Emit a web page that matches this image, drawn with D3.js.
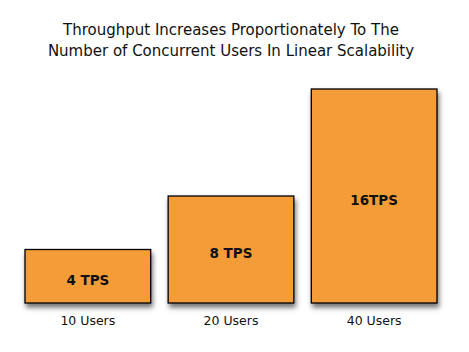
<!DOCTYPE html>
<html><head><meta charset="utf-8">
<script src="https://cdn.jsdelivr.net/npm/d3@7"></script>
<style>body{margin:0;background:#fff}svg{display:block}</style>
</head><body>
<script>
const categories = ["10 Users", "20 Users", "40 Users"];
const values = [4, 8, 16];
const valueLabels = ["4 TPS", "8 TPS", "16TPS"];
const titleLines = ["Throughput Increases Proportionately To The", "Number of Concurrent Users In Linear Scalability"];

const W = 469, H = 352;
const svg = d3.select("body").append("svg").attr("width", W).attr("height", H);
const defs = svg.append("defs");
const f = defs.append("filter").attr("id","sh").attr("x","-20%").attr("y","-20%").attr("width","150%").attr("height","150%");
f.append("feDropShadow").attr("dx",1.5).attr("dy",4).attr("stdDeviation",2.5).attr("flood-color","#000").attr("flood-opacity",0.55);

const x = d3.scaleBand().domain(categories).range([25, 437]).paddingInner(0.122).paddingOuter(0);
const y = d3.scaleLinear().domain([0, 16]).range([303, 89]);

svg.append("g").selectAll("rect").data(values).join("rect")
  .attr("x", (d,i) => x(categories[i]))
  .attr("y", d => y(d))
  .attr("width", x.bandwidth())
  .attr("height", d => y(0) - y(d))
  .attr("fill", "#F39C38")
  .attr("stroke", "#000").attr("stroke-width", 1.3)
  .attr("filter", "url(#sh)");

svg.append("g").selectAll("text").data(values).join("text")
  .attr("x", (d,i) => x(categories[i]) + x.bandwidth()/2)
  .attr("y", d => (y(d) + y(0))/2 + 8.5)
  .attr("text-anchor","middle")
  .attr("font-family","'DejaVu Sans', Verdana, sans-serif")
  .attr("font-weight","bold").attr("font-size", 13.5)
  .attr("fill","#111")
  .text((d,i) => valueLabels[i]);

svg.append("g").selectAll("text").data(categories).join("text")
  .attr("x", d => x(d) + x.bandwidth()/2)
  .attr("y", 325)
  .attr("text-anchor","middle")
  .attr("font-family","'DejaVu Sans', Verdana, sans-serif")
  .attr("font-size", 12.5)
  .attr("fill","#111")
  .text(d => d);

svg.append("g").selectAll("text").data(titleLines).join("text")
  .attr("x", 231)
  .attr("y", (d,i) => 35 + i*21)
  .attr("text-anchor","middle")
  .attr("font-family","'DejaVu Sans', Verdana, sans-serif")
  .attr("font-size", 15)
  .attr("fill","#111")
  .text(d => d);
</script>
</body></html>
